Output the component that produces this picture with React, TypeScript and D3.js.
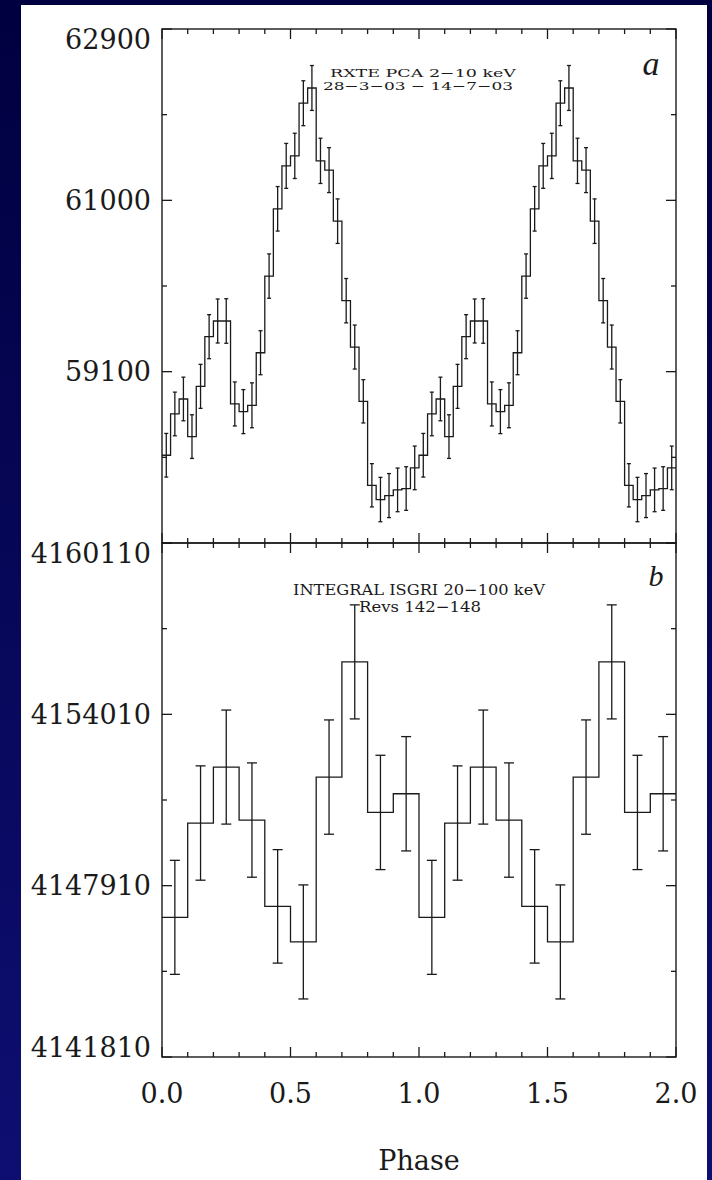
import React from "react";
import * as d3 from "d3";

// Folded light curves, one cycle of phase bins each (drawn twice, phase 0–2)
const rxteRate = [
  58173, 58631, 58797, 58380, 58937, 59488, 59662, 59662, 58742, 58657,
  58727, 59310, 60160, 60906, 61382, 61493, 62077, 62246, 61438, 61335,
  60769, 59887, 59373, 58771, 57840, 57682, 57726, 57789, 57804, 58033,
];
const rxteErr = [
  242, 242, 242, 242, 244, 244, 244, 247, 244, 244,
  249, 244, 246, 247, 249, 251, 249, 249, 251, 249,
  247, 246, 244, 240, 240, 246, 244, 242, 242, 242,
];
const isgriRate = [
  4146782, 4150140, 4152132, 4150246, 4147173,
  4145907, 4151776, 4155877, 4150517, 4151182,
];
const isgriErr = [2030, 2035, 2030, 2035, 2020, 2030, 2035, 2030, 2035, 2035];

// Axis ticks
const rxteMajorTicks = [57200, 59100, 61000, 62900];
const rxteTickLabels = ["59100", "61000", "62900"];
const rxteMinorTicks = [58150, 60050, 61950];
const isgriMajorTicks = [4141810, 4147910, 4154010, 4160110];
const isgriTickLabels = ["4141810", "4147910", "4154010", "4160110"];
const isgriMinorTicks = [4144860, 4150960, 4157060];
const phaseMajorTicks = [0, 0.5, 1, 1.5, 2];
const phaseTickLabels = ["0.0", "0.5", "1.0", "1.5", "2.0"];
const phaseMinorTicks = [0.1, 0.2, 0.3, 0.4, 0.6, 0.7, 0.8, 0.9, 1.1, 1.2, 1.3, 1.4, 1.6, 1.7, 1.8, 1.9];

const W = 712;
const H = 1180;
const left = 162;
const right = 676;
const topA = 29;
const mid = 543;
const bottomB = 1057;
const ink = "#1a1a1a";
const serif = "'DejaVu Serif', serif";

const x = d3.scaleLinear().domain([0, 2]).range([left, right]);
const yA = d3.scaleLinear().domain([57200, 62900]).range([mid, topA]);
const yB = d3.scaleLinear().domain([4141810, 4160110]).range([bottomB, mid]);

type Scale = d3.ScaleLinear<number, number>;

function Panel({
  rate,
  err,
  y,
  cap,
  major,
  minor,
  labels,
}: {
  rate: number[];
  err: number[];
  y: Scale;
  cap: number;
  major: number[];
  minor: number[];
  labels: string[];
}) {
  const n = rate.length;
  const [y0, y1] = y.range();
  const pts: [number, number][] = [];
  for (let k = 0; k < 2 * n; k++) pts.push([k / n, rate[k % n]]);
  pts.push([2, rate[n - 1]]);
  const line = d3
    .line<[number, number]>()
    .x((d) => x(d[0]))
    .y((d) => y(d[1]))
    .curve(d3.curveStepAfter);
  const bars = d3.range(2 * n).map((k) => {
    const i = k % n;
    return { cx: x((k + 0.5) / n), lo: y(rate[i] - err[i]), hi: y(rate[i] + err[i]) };
  });
  const yTicks = [
    ...major.map((v) => ({ v, len: 10 })),
    ...minor.map((v) => ({ v, len: 5 })),
  ];
  const xTicks = [
    ...phaseMajorTicks.map((v) => ({ v, len: 10 })),
    ...phaseMinorTicks.map((v) => ({ v, len: 5 })),
  ];
  return (
    <g>
      <path d={line(pts) ?? ""} fill="none" stroke={ink} strokeWidth={1.3} />
      {bars.map((b, k) => (
        <g key={k} stroke={ink} strokeWidth={1.3}>
          <line x1={b.cx} x2={b.cx} y1={b.lo} y2={b.hi} />
          <line x1={b.cx - cap} x2={b.cx + cap} y1={b.lo} y2={b.lo} />
          <line x1={b.cx - cap} x2={b.cx + cap} y1={b.hi} y2={b.hi} />
        </g>
      ))}
      <rect x={left} y={y1} width={right - left} height={y0 - y1} fill="none" stroke={ink} strokeWidth={1.4} />
      {yTicks.map((t, k) => (
        <g key={"y" + k} stroke={ink} strokeWidth={1.3}>
          <line x1={left} x2={left + t.len} y1={y(t.v)} y2={y(t.v)} />
          <line x1={right} x2={right - t.len} y1={y(t.v)} y2={y(t.v)} />
        </g>
      ))}
      {xTicks.map((t, k) => (
        <g key={"x" + k} stroke={ink} strokeWidth={1.3}>
          <line x1={x(t.v)} x2={x(t.v)} y1={y1} y2={y1 + t.len} />
          <line x1={x(t.v)} x2={x(t.v)} y1={y0} y2={y0 - t.len} />
        </g>
      ))}
      {labels.map((s) => {
        const ty = Math.min(Math.max(y(+s), y1 + 10), y0 - 10);
        return (
          <text
            key={s}
            x={151}
            y={ty}
            textAnchor="end"
            dominantBaseline="central"
            fontFamily={serif}
            fontSize={27}
            fill={ink}
          >
            {s}
          </text>
        );
      })}
    </g>
  );
}

export default function App() {
  return (
    <svg width={W} height={H} style={{ position: "absolute", left: 0, top: 0 }}>
      <defs>
        <linearGradient id="bg" x1="0" y1="0" x2="0" y2="1">
          <stop offset="0" stopColor="#000040" />
          <stop offset="1" stopColor="#0e0e72" />
        </linearGradient>
      </defs>
      <rect width={W} height={H} fill="url(#bg)" />
      <rect x={21} y={5} width={686} height={H - 5} fill="#ffffff" />

      <Panel rate={rxteRate} err={rxteErr} y={yA} cap={2} major={rxteMajorTicks} minor={rxteMinorTicks} labels={rxteTickLabels} />
      <Panel rate={isgriRate} err={isgriErr} y={yB} cap={5} major={isgriMajorTicks} minor={isgriMinorTicks} labels={isgriTickLabels} />

      {/* two-line captions, one text element each */}
      <text fontFamily={serif} fontSize={11.5} fill={ink}>
        <tspan x={330} y={76.5} textLength={186} lengthAdjust="spacingAndGlyphs">
          RXTE PCA 2−10 keV
        </tspan>
        <tspan x={323} y={90} textLength={190} lengthAdjust="spacingAndGlyphs">
          28−3−03 − 14−7−03
        </tspan>
      </text>
      <text fontFamily={serif} fontSize={15} fill={ink}>
        <tspan x={293} y={594.5} textLength={252} lengthAdjust="spacingAndGlyphs">
          INTEGRAL ISGRI 20−100 keV
        </tspan>
        <tspan x={359} y={611.5} textLength={122} lengthAdjust="spacingAndGlyphs">
          Revs 142−148
        </tspan>
      </text>

      <text x={651} y={75} textAnchor="middle" fontFamily="'Liberation Serif', serif" fontStyle="italic" fontSize={34} fill={ink}>
        a
      </text>
      <text x={656} y={586} textAnchor="middle" fontFamily="'Liberation Serif', serif" fontStyle="italic" fontSize={30} fill={ink}>
        b
      </text>

      {phaseTickLabels.map((s, k) => (
        <text key={s} x={x(phaseMajorTicks[k])} y={1093} textAnchor="middle" dominantBaseline="central" fontFamily={serif} fontSize={27} fill={ink}>
          {s}
        </text>
      ))}
      <text x={x(1)} y={1160} textAnchor="middle" dominantBaseline="central" fontFamily={serif} fontSize={27} fill={ink}>
        Phase
      </text>
    </svg>
  );
}
